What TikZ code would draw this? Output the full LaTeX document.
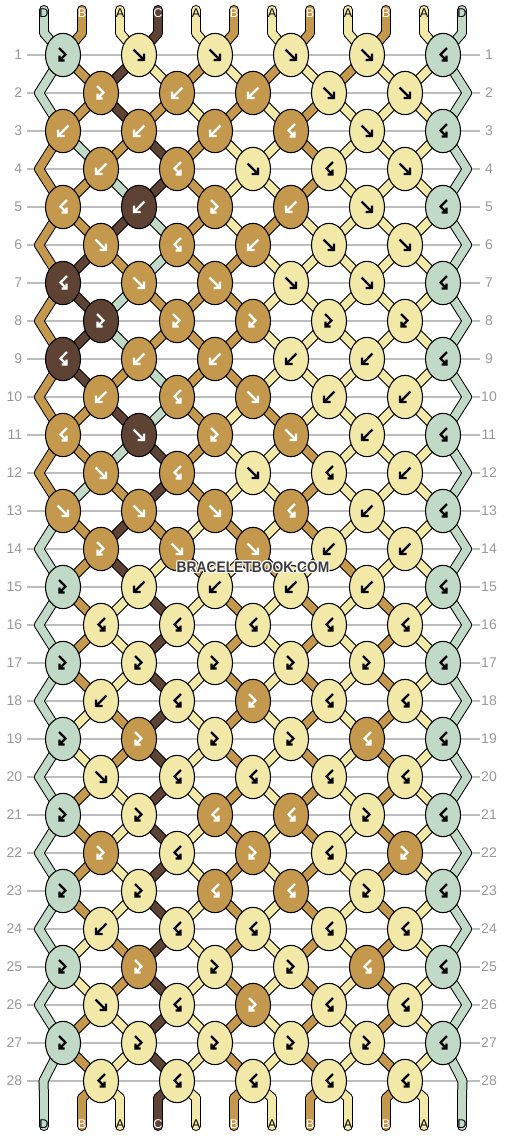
\documentclass[tikz,border=0pt]{standalone}
\usepackage{fontspec}
\setmainfont{Liberation Sans}
\usetikzlibrary{shapes.geometric}
\definecolor{colA}{HTML}{F2E9A9}
\definecolor{colB}{HTML}{C4994E}
\definecolor{colC}{HTML}{5E4334}
\definecolor{colD}{HTML}{C1D9C7}
\definecolor{gridgray}{HTML}{BDBDBD}
\definecolor{numgray}{HTML}{999999}
\definecolor{wmgray}{HTML}{3C3C3C}
\colorlet{glyA}{black}\colorlet{glyB}{white}\colorlet{glyC}{white}\colorlet{glyD}{black}
\pgfdeclarelayer{grid}\pgfdeclarelayer{strings}
\pgfsetlayers{grid,strings,main}
\tikzset{
 knot/.style={ellipse, draw=black, line width=0.8pt, minimum width=26.25pt, minimum height=32.5pt, inner sep=0pt},
 glyph/.style={line width=1.65pt, line join=miter, line cap=butt},
 strout/.style={draw=black, line width=7.5pt, line cap=round, line join=round},
 strfill/.style={draw=col#1, line width=6pt, line cap=round, line join=round},
 rowline/.style={draw=gridgray, line width=0.9pt},
 rownum/.style={text=numgray, font=\fontsize{10.5}{12}\selectfont, inner sep=0pt},
 endlab/.style={font=\fontsize{9.5}{10}\selectfont, inner sep=0pt},
 wm/.style={font=\bfseries\fontsize{11.5}{12}\selectfont, xscale=0.9, inner sep=0pt},
}
\newcommand\glF{\draw[glyph] (-5.5,-5.5) -- (5,5) (5,-1.5) -- (5,5) -- (-1.5,5);}
\newcommand\glB{\draw[glyph] (5.5,-5.5) -- (-5,5) (-5,-1.5) -- (-5,5) -- (1.5,5);}
\newcommand\glFB{\draw[glyph] (-4,-7) -- (2.5,-0.5) -- (-3.5,5.5) (-3.5,0.5) -- (-3.5,5.5) -- (1.5,5.5);}
\newcommand\glBF{\draw[glyph] (4,-7) -- (-2.5,-0.5) -- (3.5,5.5) (3.5,0.5) -- (3.5,5.5) -- (-1.5,5.5);}
\newcommand\wmtext{BRACELETBOOK.COM}
\newcommand\halo[2]{\rlap{\kern#1\raisebox{#2}{\textcolor{white}{\wmtext}}}}
\def\knots{%
{D/FB,A/F,A/F,A/F,A/F,D/BF},%1
{B/FB,B/B,B/B,A/F,A/F},%2
{B/B,B/B,B/B,B/BF,A/F,D/BF},%3
{B/B,B/BF,A/F,A/BF,A/F},%4
{B/BF,C/B,B/FB,B/B,A/F,D/BF},%5
{B/F,B/BF,B/B,A/F,A/F},%6
{C/BF,B/F,B/F,A/F,A/F,D/BF},%7
{C/FB,B/FB,B/FB,A/FB,A/FB},%8
{C/BF,B/B,B/B,A/B,A/B,D/BF},%9
{B/B,B/BF,B/F,A/B,A/B},%10
{B/BF,C/F,B/FB,B/F,A/B,D/BF},%11
{B/F,B/BF,A/F,A/BF,A/B},%12
{B/F,B/F,B/F,B/BF,A/B,D/BF},%13
{B/FB,B/F,B/F,A/B,A/B},%14
{D/FB,A/B,A/B,A/B,A/B,D/BF},%15
{A/BF,A/BF,A/BF,A/BF,A/BF},%16
{D/FB,A/FB,A/FB,A/FB,A/FB,D/BF},%17
{A/B,A/BF,B/FB,A/BF,A/BF},%18
{D/FB,B/FB,A/FB,A/FB,B/BF,D/BF},%19
{A/F,A/BF,A/BF,A/BF,A/BF},%20
{D/FB,A/FB,B/BF,B/BF,A/FB,D/BF},%21
{B/FB,A/BF,B/FB,A/BF,B/FB},%22
{D/FB,A/FB,B/BF,B/BF,A/FB,D/BF},%23
{A/B,A/BF,A/BF,A/BF,A/BF},%24
{D/FB,B/FB,A/FB,A/FB,B/BF,D/BF},%25
{A/F,A/BF,B/FB,A/BF,A/BF},%26
{D/FB,A/FB,A/FB,A/FB,A/FB,D/BF},%27
{A/BF,A/BF,A/BF,A/BF,A/BF}}%28
\def\states{%
{D,B,A,C,A,B,A,B,A,B,A,D},%0
{D,B,C,A,B,A,B,A,B,A,A,D},%1
{D,B,C,B,A,B,A,B,A,A,A,D},%2
{B,D,B,C,B,A,A,B,A,A,A,D},%3
{B,B,D,C,B,A,A,B,A,A,A,D},%4
{B,B,C,D,B,A,B,A,A,A,A,D},%5
{B,C,B,D,B,B,A,A,A,A,A,D},%6
{B,C,D,B,B,B,A,A,A,A,A,D},%7
{B,C,D,B,B,B,A,A,A,A,A,D},%8
{B,C,B,D,B,B,A,A,A,A,A,D},%9
{B,B,C,D,B,A,B,A,A,A,A,D},%10
{B,B,D,C,B,A,A,B,A,A,A,D},%11
{B,D,B,C,B,A,A,B,A,A,A,D},%12
{D,B,C,B,A,B,A,B,A,A,A,D},%13
{D,B,C,A,B,A,B,A,B,A,A,D},%14
{D,B,A,C,A,B,A,B,A,B,A,D},%15
{D,B,A,C,A,B,A,B,A,B,A,D},%16
{D,B,A,C,A,B,A,B,A,B,A,D},%17
{D,A,B,C,A,B,A,B,A,B,A,D},%18
{D,A,B,C,A,B,A,B,A,B,A,D},%19
{D,B,A,C,A,B,A,B,A,B,A,D},%20
{D,B,A,C,A,B,A,B,A,B,A,D},%21
{D,B,A,C,A,B,A,B,A,B,A,D},%22
{D,B,A,C,A,B,A,B,A,B,A,D},%23
{D,A,B,C,A,B,A,B,A,B,A,D},%24
{D,A,B,C,A,B,A,B,A,B,A,D},%25
{D,B,A,C,A,B,A,B,A,B,A,D},%26
{D,B,A,C,A,B,A,B,A,B,A,D},%27
{D,B,A,C,A,B,A,B,A,B,A,D}}%28
\newcommand\setname[2]{%
  \ifnum#1=0\relax \edef\NN{T-#2}%
  \else\ifnum#1=29\relax \edef\NN{B-#2}%
  \else\ifodd#1\relax \pgfmathtruncatemacro\kk{(#2+1)/2}\edef\NN{K-#1-\kk}%
  \else\ifnum#2=1\relax \edef\NN{EL-#1}%
  \else\ifnum#2=12\relax \edef\NN{ER-#1}%
  \else \pgfmathtruncatemacro\kk{#2/2}\edef\NN{K-#1-\kk}%
  \fi\fi\fi\fi\fi}
\newcommand\drawstrings[1]{%
  \foreach \srow [count=\ri from 0] in \states {%
    \foreach \sc [count=\pp] in \srow {%
      \pgfmathtruncatemacro\rn{\ri+1}%
      \setname{\ri}{\pp}\let\Na\NN
      \setname{\rn}{\pp}\let\Nb\NN
      \draw[#1] (\Na.center) -- (\Nb.center);
      \ifnum\ri=0\relax \draw[#1] (TT-\pp.center) -- (T-\pp.center);\fi
      \ifnum\ri=28\relax \draw[#1] (B-\pp.center) -- (BB-\pp.center);\fi
    }}}
\begin{document}
\begin{tikzpicture}[x=0.75pt,y=-0.75pt]
\useasboundingbox (0,0) rectangle (506,1136);
\begin{pgfonlayer}{grid}
  \fill[white] (0,0) rectangle (506,1136);
  \foreach \rr in {1,...,28} {
    \pgfmathsetmacro\ky{55+38*(\rr-1)}
    \draw[rowline] (27,\ky) -- (480,\ky);
    \node[rownum, anchor=east] (nl-\rr) at (22.5,\ky) {\rr};
    \node[rownum] (nr-\rr) at (489,\ky) {\rr};
  }
\end{pgfonlayer}
% end points and edge turns
\foreach \pp in {1,...,12} {
  \pgfmathsetmacro\sx{253+38*(\pp-6.5)}
  \coordinate (TT-\pp) at (\sx,10);
  \coordinate (T-\pp) at (\sx,33);
  \coordinate (B-\pp) at (\sx,1098);
  \coordinate (BB-\pp) at (\sx,1126);
}
\foreach \rr in {2,4,...,26} {
  \pgfmathsetmacro\ky{55+38*(\rr-1)}
  \coordinate (EL-\rr) at (39,\ky);
  \coordinate (ER-\rr) at (467,\ky);
}
\coordinate (EL-28) at (43.5,1081);
\coordinate (ER-28) at (462.5,1081);
% knots
\foreach \rowdata [count=\ri] in \knots {
  \foreach \cl/\ty [count=\kc] in \rowdata {
    \pgfmathsetmacro\kx{253+76*(\kc-3.5+0.5*(1-mod(\ri,2)))}
    \pgfmathsetmacro\ky{55+38*(\ri-1)}
    \node[knot, fill=col\cl] (K-\ri-\kc) at (\kx,\ky) {};
    \begin{scope}[shift={(K-\ri-\kc.center)}, color=gly\cl]
      \csname gl\ty\endcsname
    \end{scope}
  }
}
% strings
\begin{pgfonlayer}{strings}
  \drawstrings{strout}
  \drawstrings{strfill=\sc}
\end{pgfonlayer}
% end labels
\foreach \sc [count=\pp] in {D,B,A,C,A,B,A,B,A,B,A,D} {
  \pgfmathsetmacro\sx{253+38*(\pp-6.5)}
  \node[endlab, text=gly\sc] (lt-\pp) at (\sx,13) {\sc};
  \node[endlab, text=gly\sc] (lb-\pp) at (\sx,1124) {\sc};
}
% watermark with white halo, one node
\node[wm, text=wmgray] (wm) at (253,567) {\halo{-0.9pt}{0pt}\halo{0.9pt}{0pt}\halo{0pt}{0.9pt}\halo{0pt}{-0.9pt}\halo{-0.7pt}{0.7pt}\halo{0.7pt}{0.7pt}\halo{-0.7pt}{-0.7pt}\halo{0.7pt}{-0.7pt}\wmtext};
\end{tikzpicture}
\end{document}
